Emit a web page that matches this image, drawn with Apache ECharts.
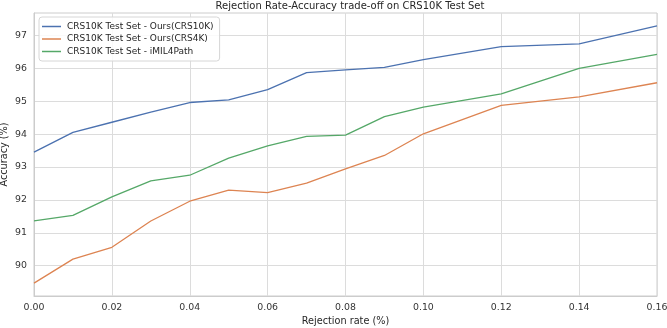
<!DOCTYPE html>
<html>
<head>
<meta charset="utf-8">
<script src="https://cdn.jsdelivr.net/npm/echarts@6/dist/echarts.min.js"></script>
<style>
  html, body { margin: 0; padding: 0; background: #fff; }
  #chart { width: 667px; height: 328px; }
</style>
</head>
<body>
<div id="chart"></div>
<script>
// rejection rates
const rates = [0.00, 0.01, 0.02, 0.03, 0.04, 0.05, 0.06, 0.07, 0.08, 0.09, 0.10, 0.12, 0.14, 0.16];
// accuracy (%) per series
const oursCrs10k = [93.45, 94.05, 94.36, 94.67, 94.96, 95.04, 95.35, 95.87, 95.95, 96.03, 96.26, 96.66, 96.74, 97.29];
const oursCrs4k = [89.47, 90.20, 90.56, 91.36, 91.96, 92.30, 92.22, 92.51, 92.94, 93.35, 94.01, 94.87, 95.13, 95.56];
const imil4path = [91.36, 91.53, 92.09, 92.58, 92.75, 93.27, 93.64, 93.93, 93.97, 94.53, 94.82, 95.22, 96.00, 96.42];
const seriesNames = ['CRS10K Test Set - Ours(CRS10K)', 'CRS10K Test Set - Ours(CRS4K)', 'CRS10K Test Set - iMIL4Path'];
const yTicks = [90, 91, 92, 93, 94, 95, 96, 97];

const font = 'DejaVu Sans';
const colors = ['#4c72b0', '#dd8452', '#55a868'];

function pairs(vals) {
    return rates.map((r, i) => [r, vals[i]]);
}

let myChart = echarts.init(document.getElementById('chart'));
let option = {
    animation: false,
    color: colors,
    textStyle: { fontFamily: font },
    title: {
        text: 'Rejection Rate-Accuracy trade-off on CRS10K Test Set',
        left: 345, top: -4,
        textAlign: 'center',
        textStyle: { fontFamily: font, fontSize: 10, fontWeight: 'normal', color: '#262626' }
    },
    legend: {
        orient: 'vertical',
        left: 39, top: 17,
        icon: 'rect',
        itemWidth: 19, itemHeight: 1.5, itemGap: 3.5,
        padding: [5, 6, 5, 3],
        backgroundColor: 'rgba(255,255,255,0.85)',
        borderColor: '#d6d6d6', borderWidth: 1, borderRadius: 3,
        textStyle: { fontFamily: font, fontSize: 9, color: '#262626', padding: [0, 0, 0, 1] },
        data: seriesNames
    },
    grid: {
        left: 34, right: 10, top: 13, bottom: 32,
        outerBoundsMode: 'none',
        show: true, borderColor: '#cccccc', borderWidth: 1
    },
    xAxis: {
        type: 'value',
        min: 0, max: 0.16, interval: 0.02,
        name: 'Rejection rate (%)',
        nameLocation: 'middle', nameGap: 20,
        nameMoveOverlap: false,
        nameTextStyle: { fontFamily: font, fontSize: 9.7, color: '#262626' },
        axisLine: { show: true, lineStyle: { color: '#cccccc', width: 1 } },
        axisTick: { show: false },
        axisLabel: {
            fontFamily: font, fontSize: 9.4, color: '#333', margin: 7,
            formatter: v => v.toFixed(2)
        },
        splitLine: { show: true, lineStyle: { color: '#dcdcdc', width: 1 } }
    },
    yAxis: {
        type: 'value',
        min: 89.08, max: 97.68,
        name: 'Accuracy (%)',
        nameLocation: 'middle', nameGap: 25,
        nameMoveOverlap: false,
        nameTextStyle: { fontFamily: font, fontSize: 9.7, color: '#262626' },
        axisLine: { show: true, lineStyle: { color: '#cccccc', width: 1 } },
        axisTick: { show: false, customValues: yTicks },
        axisLabel: {
            fontFamily: font, fontSize: 9.4, color: '#333', margin: 7,
            customValues: yTicks
        },
        splitLine: { show: true, lineStyle: { color: '#dcdcdc', width: 1 } }
    },
    series: [
        { name: seriesNames[0], type: 'line', symbol: 'none', data: pairs(oursCrs10k), lineStyle: { width: 1.3 } },
        { name: seriesNames[1], type: 'line', symbol: 'none', data: pairs(oursCrs4k), lineStyle: { width: 1.3 } },
        { name: seriesNames[2], type: 'line', symbol: 'none', data: pairs(imil4path), lineStyle: { width: 1.3 } }
    ]
};
myChart.setOption(option);
</script>
</body>
</html>
